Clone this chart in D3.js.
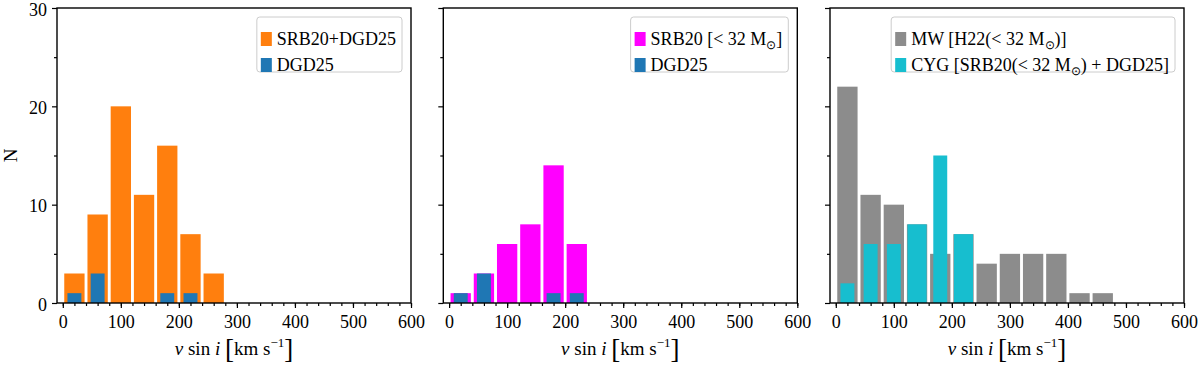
<!DOCTYPE html>
<html>
<head>
<meta charset="utf-8">
<script src="https://cdn.jsdelivr.net/npm/d3@7"></script>
<style>
  body { margin: 0; background: #fff; }
  svg text { font-family: "Liberation Serif", "Times New Roman", serif; fill: #000; }
</style>
</head>
<body>
<script>
// Histogram data (bins of 40 km/s starting at these edges)
var binEdges = [0, 40, 80, 120, 160, 200, 240, 280, 320, 360, 400, 440];

// Panel 1
var srbDgdCounts = [3, 9, 20, 11, 16, 7, 3];
var dgdCounts = [1, 3, 0, 0, 1, 1, 0];

// Panel 2
var srbLowCounts = [1, 3, 6, 8, 14, 6];
var dgdCounts2 = [1, 3, 0, 0, 1, 1];

// Panel 3
var mwCounts = [22, 11, 10, 8, 5, 7, 4, 5, 5, 5, 1, 1];
var cygCounts = [2, 6, 6, 8, 15, 7];

// Ticks
var xTickValues = [0, 100, 200, 300, 400, 500, 600];
var yTickValues = [0, 10, 20, 30];

// Colours
var orange = "#ff7f0e";
var blue = "#1f77b4";
var magenta = "#ff00ff";
var grey = "#8c8c8c";
var cyan = "#17becf";

// SVG area
var svgWidth = 1200;
var svgHeight = 365;

var svg = d3.select("body")
  .append("svg")
  .attr("width", svgWidth)
  .attr("height", svgHeight);

var panelTop = 8;
var panelHeight = 295;
var panelWidth = 354;
var panelLefts = [57, 443.3, 830];

var x = d3.scaleLinear().domain([-10, 600]).range([0, panelWidth]);
var y = d3.scaleLinear().domain([0, 30]).range([panelHeight, 0]);

function makePanel(i) {
  return svg.append("g")
    .attr("transform", `translate(${panelLefts[i]}, ${panelTop})`);
}

// draw one histogram layer; lo/hi are the bar edges inside the bin
function drawBars(g, counts, color, lo, hi) {
  g.append("g").selectAll("rect")
    .data(counts)
    .enter()
    .append("rect")
    .attr("x", (d, i) => x(binEdges[i] + lo(d, i)))
    .attr("width", (d, i) => x(binEdges[i] + hi(d, i)) - x(binEdges[i] + lo(d, i)))
    .attr("y", d => y(d))
    .attr("height", d => y(0) - y(d))
    .attr("fill", color);
}

var wideLo = () => 2.5, wideHi = () => 37.5;
var narrowLo = () => 8, narrowHi = () => 32;

function drawAxes(g, showYLabels) {
  var bottomAxis = d3.axisBottom(x).tickValues(xTickValues).tickSize(5).tickPadding(7).tickSizeOuter(0);
  var bottomMinor = d3.axisBottom(x).tickValues(d3.range(0, 601, 20)).tickSize(3).tickFormat("").tickSizeOuter(0);
  var leftAxis = d3.axisLeft(y).tickValues(yTickValues).tickSize(5).tickPadding(5).tickSizeOuter(0);
  var leftMinor = d3.axisLeft(y).tickValues([5, 15, 25]).tickSize(3).tickFormat("").tickSizeOuter(0);
  if (!showYLabels) leftAxis.tickFormat("");

  var axes = [
    g.append("g").attr("transform", `translate(0, ${panelHeight})`).call(bottomMinor),
    g.append("g").attr("transform", `translate(0, ${panelHeight})`).call(bottomAxis),
    g.append("g").call(leftMinor),
    g.append("g").attr("class", "yaxis").call(leftAxis)
  ];
  axes.forEach(function(a) {
    a.select(".domain").remove();
    a.selectAll("line").attr("stroke", "#000").attr("stroke-width", 1.2);
    a.selectAll("text").style("font-size", "18px").attr("font-family", null);
  });
  g.select(".yaxis").selectAll("text").attr("dy", "0.4em");

  // frame
  g.append("rect")
    .attr("width", panelWidth)
    .attr("height", panelHeight)
    .attr("fill", "none")
    .attr("stroke", "#000")
    .attr("stroke-width", 1.4);

  // x label: v sin i [km s^-1]
  var lab = g.append("text")
    .attr("x", panelWidth / 2)
    .attr("y", panelHeight + 52)
    .attr("text-anchor", "middle")
    .style("font-size", "19px");
  lab.append("tspan").style("font-style", "italic").text("v");
  lab.append("tspan").text(" sin ");
  lab.append("tspan").style("font-style", "italic").text("i");
  lab.append("tspan").text(" ");
  lab.append("tspan").style("font-size", "27px").attr("dy", 2.5).text("[");
  lab.append("tspan").attr("dy", -2.5).text("km s");
  lab.append("tspan").style("font-size", "13px").attr("dy", -8).text("−1");
  lab.append("tspan").style("font-size", "27px").attr("dy", 10.5).text("]");
}

// legend entries: each entry is a list of [text, kind] pieces
function drawLegend(g, entries) {
  var leg = g.append("g");
  var box = leg.append("rect")
    .attr("rx", 3)
    .attr("fill", "#fff")
    .attr("fill-opacity", 0.8)
    .attr("stroke", "#cccccc")
    .attr("stroke-width", 1);
  var maxW = 0;
  entries.forEach(function(e, i) {
    var cy = 22 + i * 26;
    leg.append("rect")
      .attr("x", 0).attr("y", cy - 7)
      .attr("width", 11).attr("height", 14)
      .attr("fill", e.color);
    var t = leg.append("text")
      .attr("x", 16).attr("y", cy + 6)
      .style("font-size", "18px");
    var back = 0;
    e.pieces.forEach(function(p) {
      if (p[1] === "sub") {
        t.append("tspan").style("font-size", "12px").attr("dy", 4).text(p[0]);
        back = -4;
      } else {
        t.append("tspan").attr("dy", back).text(p[0]);
        back = 0;
      }
    });
    maxW = Math.max(maxW, 16 + t.node().getComputedTextLength());
  });
  var bw = maxW + 4 + 6;
  box.attr("x", -4).attr("y", 0).attr("width", bw).attr("height", 55);
  leg.attr("transform", `translate(${panelWidth - 9 - bw + 4}, 9)`);
}

// Panel 1
var p1 = makePanel(0);
drawBars(p1, srbDgdCounts, orange, wideLo, wideHi);
drawBars(p1, dgdCounts, blue, narrowLo, narrowHi);
drawAxes(p1, true);
drawLegend(p1, [
  { color: orange, pieces: [["SRB20+DGD25"]] },
  { color: blue, pieces: [["DGD25"]] }
]);
p1.append("text")
  .attr("transform", `translate(-40, ${panelHeight / 2}) rotate(-90)`)
  .attr("text-anchor", "middle")
  .style("font-size", "19px")
  .text("N");

// Panel 2
var p2 = makePanel(1);
drawBars(p2, srbLowCounts, magenta, wideLo, wideHi);
drawBars(p2, dgdCounts2, blue, narrowLo, narrowHi);
drawAxes(p2, false);
drawLegend(p2, [
  { color: magenta, pieces: [["SRB20 [< 32 M"], ["⊙", "sub"], ["]"]] },
  { color: blue, pieces: [["DGD25"]] }
]);

// Panel 3 (CYG bars span the full bin where they match the MW count)
var p3 = makePanel(2);
drawBars(p3, mwCounts, grey, wideLo, wideHi);
drawBars(p3, cygCounts, cyan,
  (d, i) => d === mwCounts[i] ? 3.5 : 8,
  (d, i) => d === mwCounts[i] ? 36.5 : 32);
drawAxes(p3, false);
drawLegend(p3, [
  { color: grey, pieces: [["MW [H22(< 32 M"], ["⊙", "sub"], [")]"]] },
  { color: cyan, pieces: [["CYG [SRB20(< 32 M"], ["⊙", "sub"], [") + DGD25]"]] }
]);
</script>
</body>
</html>
